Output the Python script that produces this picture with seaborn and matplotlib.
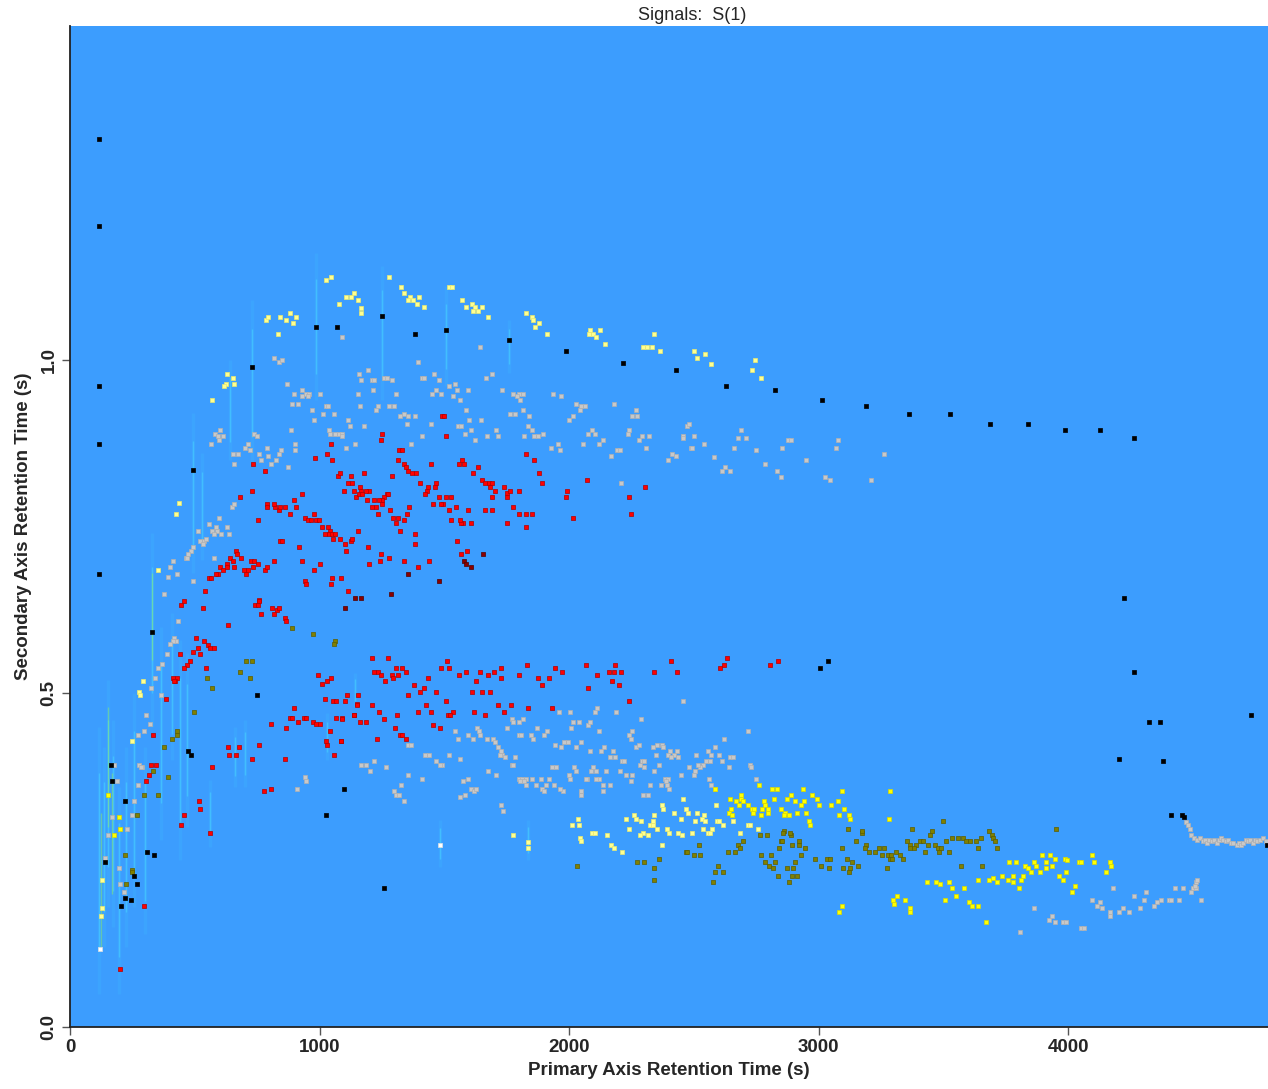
"""
GCxGC peak map: primary vs secondary retention time, peaks coloured by class
"""

import numpy as np
import pandas as pd
import matplotlib
matplotlib.use("Agg")
import matplotlib.pyplot as plt
import seaborn as sns

sns.set_style("white", {"xtick.bottom": True, "ytick.left": True})
plt.rcParams["font.family"] = ["Liberation Sans", "DejaVu Sans"]

# ---- peak tables: (primary RT s, secondary RT s) ----
black_pts = [
    (116, 1.330), (116, 1.200), (116, 0.960), (116, 0.874), (116, 0.679),
    (329, 0.592), (164, 0.392), (168, 0.368), (221, 0.338), (309, 0.262), (337, 0.257),
    (257, 0.227), (269, 0.214), (221, 0.193), (245, 0.191), (205, 0.182), (140, 0.248),
    (473, 0.413), (485, 0.408), (750, 0.498), (1099, 0.357), (1027, 0.318), (1259, 0.208),
    (493, 0.834), (730, 0.989), (987, 1.049), (1071, 1.049), (1251, 1.066), (1384, 1.039),
    (1508, 1.044), (1757, 1.030), (1989, 1.013), (2214, 0.995), (2427, 0.985),
    (2627, 0.960), (2824, 0.954), (3012, 0.939), (3189, 0.930), (3361, 0.919), (3526, 0.919),
    (3686, 0.903), (3838, 0.903), (3987, 0.894), (4127, 0.894), (4264, 0.883),
    (4224, 0.643), (4264, 0.532), (4324, 0.457), (4368, 0.457), (4733, 0.468), (4204, 0.402),
    (4380, 0.398), (3036, 0.549), (3004, 0.538), (4412, 0.318), (4456, 0.318), (4464, 0.314),
    (4797, 0.272),
]

white_pts = [(120, 0.117), (1484, 0.272)]

pale_yellow_pts = [
    (786, 1.060), (794, 1.064), (842, 1.064), (866, 1.060), (882, 1.070), (906, 1.064),
    (894, 1.055), (834, 1.039), (1027, 1.120), (1047, 1.124), (1079, 1.084), (1107, 1.094),
    (1127, 1.094), (1139, 1.100), (1155, 1.090), (1167, 1.078), (1167, 1.070), (1280, 1.124),
    (1328, 1.109), (1340, 1.100), (1364, 1.094), (1356, 1.090), (1376, 1.090), (1400, 1.094),
    (1392, 1.084), (1420, 1.079), (1520, 1.109), (1532, 1.109), (1572, 1.090), (1588, 1.079),
    (1612, 1.084), (1624, 1.079), (1616, 1.073), (1636, 1.073), (1652, 1.079), (1676, 1.064),
    (1829, 1.070), (1853, 1.064), (1857, 1.060), (1881, 1.055), (1865, 1.049), (1913, 1.039),
    (2082, 1.044), (2078, 1.039), (2094, 1.039), (2106, 1.034), (2122, 1.044), (2142, 1.024),
    (2294, 1.019), (2310, 1.019), (2330, 1.019), (2338, 1.039), (2362, 1.013), (2499, 1.013),
    (2511, 1.003), (2543, 1.009), (2567, 0.994), (2744, 1.000), (2732, 0.984), (2768, 0.973),
    (630, 0.979), (654, 0.973), (626, 0.964), (658, 0.964), (618, 0.960), (570, 0.939),
    (437, 0.785), (425, 0.768), (353, 0.685), (293, 0.519), (277, 0.502), (281, 0.498),
    (249, 0.428), (128, 0.221), (128, 0.178), (124, 0.167),
    (2455, 0.342), (2371, 0.332), (2375, 0.327), (2467, 0.327), (2475, 0.321), (2511, 0.321),
    (2539, 0.318), (2531, 0.312), (2543, 0.308), (2591, 0.308), (2599, 0.308), (2615, 0.302),
    (2655, 0.308), (2535, 0.297), (2571, 0.297), (2555, 0.291), (2563, 0.291), (2683, 0.291),
    (2716, 0.302), (2724, 0.302), (2756, 0.297), (2503, 0.308), (2491, 0.291), (2447, 0.312),
    (2419, 0.321), (2451, 0.287), (2435, 0.291), (2391, 0.297), (2399, 0.291), (2351, 0.297),
    (2323, 0.302), (2335, 0.302), (2335, 0.308), (2339, 0.318), (2286, 0.308), (2266, 0.312),
    (2258, 0.318), (2226, 0.312), (2238, 0.297), (2294, 0.291), (2282, 0.287), (2314, 0.287),
    (2371, 0.272), (2150, 0.287), (2166, 0.272), (2178, 0.268), (2210, 0.262), (2037, 0.312),
    (2013, 0.302), (2041, 0.302), (2090, 0.291), (2102, 0.291), (2045, 0.283), (2049, 0.278),
    (1773, 0.287), (1837, 0.277), (1837, 0.268), (2587, 0.332),
]

yellow_pts = [
    (152, 0.348), (197, 0.314), (201, 0.297), (176, 0.287),
    (2583, 0.357), (2760, 0.362), (2812, 0.357), (2832, 0.357), (2936, 0.357), (3093, 0.354),
    (3285, 0.354), (2643, 0.342), (2687, 0.348), (2687, 0.342), (2667, 0.338), (2695, 0.338),
    (2679, 0.332), (2716, 0.332), (2732, 0.327), (2740, 0.327), (2647, 0.327), (2639, 0.321),
    (2651, 0.318), (2736, 0.321), (2772, 0.327), (2780, 0.338), (2784, 0.332), (2796, 0.327),
    (2796, 0.321), (2768, 0.318), (2820, 0.342), (2848, 0.327), (2872, 0.342), (2888, 0.348),
    (2904, 0.338), (2864, 0.321), (2860, 0.318), (2880, 0.318), (2912, 0.321), (2928, 0.332),
    (2940, 0.338), (2948, 0.321), (2972, 0.348), (2992, 0.342), (3000, 0.332), (3048, 0.332),
    (3076, 0.338), (3101, 0.327), (3081, 0.318), (3121, 0.318), (3125, 0.312), (2960, 0.308),
    (2964, 0.302), (3281, 0.312),
    (3433, 0.218), (3470, 0.218), (3486, 0.214), (3522, 0.218), (3534, 0.208), (3582, 0.208),
    (3550, 0.197), (3506, 0.191), (3602, 0.187), (3614, 0.182), (3638, 0.182), (3670, 0.157),
    (3638, 0.221), (3682, 0.221), (3698, 0.224), (3714, 0.218), (3734, 0.227), (3758, 0.221),
    (3778, 0.227), (3778, 0.218), (3802, 0.208), (3810, 0.221), (3818, 0.227), (3826, 0.242),
    (3838, 0.238), (3850, 0.232), (3862, 0.248), (3870, 0.242), (3886, 0.232), (3894, 0.257),
    (3910, 0.248), (3910, 0.238), (3926, 0.257), (3934, 0.242), (3946, 0.251), (3962, 0.227),
    (3978, 0.221), (3990, 0.232), (3986, 0.251), (3994, 0.250), (4027, 0.212), (4015, 0.202),
    (4043, 0.248), (4051, 0.248), (4095, 0.257), (4103, 0.248), (4151, 0.232), (4167, 0.248),
    (4171, 0.242), (3762, 0.248), (3790, 0.248), (3297, 0.191), (3313, 0.196), (3301, 0.185),
    (3345, 0.191), (3365, 0.178), (3365, 0.173), (3093, 0.182), (3081, 0.172),
]

gray_pts = [
    # upper band
    (1091, 1.034), (818, 1.003), (838, 0.996), (850, 1.000), (870, 0.964), (1195, 0.985),
    (1159, 0.979), (1167, 0.969), (1211, 0.969), (1219, 0.969), (1259, 0.973), (1271, 0.973),
    (1291, 0.969), (1396, 0.996), (1412, 0.973), (1420, 0.973), (1460, 0.979), (1480, 0.969),
    (1644, 1.019), (1668, 0.973), (1692, 0.979), (1544, 0.964), (1520, 0.960), (1468, 0.955),
    (1452, 0.949), (1488, 0.949), (1552, 0.955), (1596, 0.955), (1564, 0.939), (1536, 0.945),
    (1588, 0.925), (1600, 0.909), (1648, 0.909), (1556, 0.900), (1568, 0.900), (1584, 0.889),
    (1608, 0.895), (1624, 0.879), (1672, 0.885), (1705, 0.895), (1713, 0.885), (1729, 0.955),
    (1773, 0.949), (1797, 0.949), (1817, 0.949), (1789, 0.945), (1805, 0.939), (1817, 0.925),
    (1841, 0.915), (1761, 0.919), (1781, 0.919), (1837, 0.900), (1853, 0.895), (1861, 0.885),
    (1877, 0.885), (1821, 0.885), (1897, 0.889), (1937, 0.949), (1969, 0.945), (2029, 0.933),
    (2049, 0.930), (2065, 0.930), (2045, 0.925), (2017, 0.915), (2001, 0.909), (1929, 0.868),
    (1957, 0.873), (1965, 0.864), (2057, 0.873), (2090, 0.895), (2074, 0.889), (2102, 0.889),
    (2118, 0.873), (2134, 0.879), (2178, 0.933), (2266, 0.925), (2250, 0.915), (2270, 0.915),
    (2238, 0.895), (2234, 0.889), (2278, 0.879), (2290, 0.885), (2318, 0.885), (2306, 0.868),
    (2190, 0.864), (2202, 0.864), (2166, 0.855), (2206, 0.815), (2395, 0.849), (2411, 0.859),
    (2427, 0.855), (2455, 0.885), (2471, 0.900), (2479, 0.904), (2487, 0.868), (2499, 0.885),
    (2455, 0.883), (2491, 0.868), (2539, 0.873), (2579, 0.854), (2623, 0.839), (2611, 0.833),
    (2643, 0.833), (2687, 0.894), (2675, 0.883), (2707, 0.883), (2659, 0.868), (2748, 0.864),
    (2784, 0.843), (2832, 0.833), (2848, 0.824), (2852, 0.868), (2876, 0.879), (2888, 0.879),
    (2948, 0.849), (3024, 0.824), (3044, 0.819), (3068, 0.868), (3076, 0.879), (3209, 0.819),
    (3261, 0.859),
    (931, 0.955), (898, 0.949), (947, 0.949), (959, 0.949), (931, 0.945), (955, 0.945),
    (1003, 0.949), (890, 0.933), (914, 0.933), (971, 0.925), (1015, 0.919), (1027, 0.930),
    (1035, 0.930), (1059, 0.919), (979, 0.909), (1039, 0.895), (1043, 0.889), (1063, 0.889),
    (1079, 0.889), (1091, 0.889), (1091, 0.885), (1115, 0.909), (1123, 0.900), (1155, 0.949),
    (1163, 0.930), (1179, 0.900), (1215, 0.955), (1235, 0.930), (1227, 0.925), (1280, 0.930),
    (1300, 0.930), (1308, 0.949), (1340, 0.919), (1356, 0.915), (1324, 0.915), (1384, 0.915),
    (1352, 0.904), (1448, 0.904), (1412, 0.885), (1368, 0.873), (1107, 0.868), (1143, 0.873),
    (902, 0.873), (902, 0.864), (886, 0.895),
    # left ramp
    (602, 0.895), (582, 0.889), (594, 0.885), (614, 0.885), (566, 0.873), (598, 0.879),
    (738, 0.889), (750, 0.885), (702, 0.868), (714, 0.873), (722, 0.864), (654, 0.859),
    (674, 0.859), (658, 0.843), (758, 0.859), (790, 0.868), (766, 0.849), (794, 0.855),
    (806, 0.843), (826, 0.849), (838, 0.859), (846, 0.864), (874, 0.839), (650, 0.779),
    (658, 0.783), (598, 0.762), (558, 0.753), (586, 0.749), (590, 0.744), (570, 0.744),
    (578, 0.739), (606, 0.739), (630, 0.749), (638, 0.739), (538, 0.728), (546, 0.732),
    (578, 0.703), (522, 0.729), (534, 0.724), (514, 0.743), (493, 0.719), (485, 0.713),
    (473, 0.709), (465, 0.703), (469, 0.703), (413, 0.698), (401, 0.689), (429, 0.679),
    (393, 0.674), (493, 0.668), (377, 0.649), (433, 0.608), (417, 0.583), (425, 0.578),
    (413, 0.578), (401, 0.574), (389, 0.559), (369, 0.544), (353, 0.538), (341, 0.523),
    (325, 0.508), (365, 0.498), (305, 0.468), (321, 0.454), (297, 0.444), (273, 0.438),
    (277, 0.392), (289, 0.389), (285, 0.389), (176, 0.392), (189, 0.368), (273, 0.363),
    (257, 0.338), (168, 0.314), (249, 0.318), (229, 0.297), (152, 0.287), (197, 0.238),
    (201, 0.214), (217, 0.202), (140, 0.253), (943, 0.374), (947, 0.368), (911, 0.357),
    # lower band
    (2455, 0.489), (1961, 0.472), (2005, 0.472), (2110, 0.478), (2102, 0.472), (2186, 0.472),
    (2286, 0.462), (1817, 0.462), (1769, 0.462), (1773, 0.457), (1797, 0.457), (1749, 0.448),
    (1632, 0.448), (1640, 0.444), (1644, 0.438), (1544, 0.444), (1596, 0.438), (1556, 0.432),
    (1616, 0.432), (1669, 0.432), (1693, 0.432), (1701, 0.427), (1713, 0.419), (1725, 0.414),
    (1729, 0.408), (1721, 0.408), (1741, 0.404), (1781, 0.404), (1769, 0.393), (1773, 0.393),
    (1801, 0.438), (1809, 0.438), (1849, 0.438), (1857, 0.432), (1873, 0.448), (1901, 0.438),
    (1913, 0.444), (1945, 0.422), (1969, 0.419), (1981, 0.427), (1997, 0.427), (2009, 0.448),
    (2017, 0.457), (2041, 0.457), (2029, 0.419), (2049, 0.427), (2074, 0.453), (2082, 0.457),
    (2118, 0.444), (2082, 0.414), (2126, 0.414), (2138, 0.419), (2174, 0.414), (2162, 0.404),
    (2182, 0.404), (2210, 0.398), (2218, 0.398), (2238, 0.438), (2246, 0.432), (2250, 0.444),
    (2266, 0.419), (2278, 0.422), (2334, 0.419), (2350, 0.422), (2370, 0.422), (2375, 0.419),
    (2346, 0.408), (2403, 0.414), (2419, 0.408), (2395, 0.408), (2431, 0.414), (2290, 0.398),
    (2298, 0.398), (2282, 0.393), (2298, 0.389), (2407, 0.404), (2435, 0.404), (2507, 0.408),
    (2555, 0.414), (2567, 0.408), (2583, 0.419), (2599, 0.408), (2619, 0.432), (2716, 0.444),
    (2643, 0.404), (2655, 0.404), (2611, 0.398), (2639, 0.389), (2547, 0.398), (2563, 0.398),
    (2535, 0.393), (2523, 0.389), (2515, 0.393), (2479, 0.389), (2503, 0.384), (2499, 0.378),
    (2447, 0.378), (2724, 0.393), (2728, 0.389), (2748, 0.372), (2559, 0.372), (2567, 0.362),
    (2583, 0.357), (2339, 0.384), (2358, 0.393), (2383, 0.372), (2395, 0.372), (2387, 0.368),
    (2391, 0.362), (2399, 0.357), (2366, 0.362), (2323, 0.362), (2294, 0.348), (2314, 0.348),
    (2250, 0.378), (2246, 0.368), (2226, 0.378), (2202, 0.384), (2162, 0.362), (2134, 0.362),
    (2134, 0.353), (2146, 0.384), (2118, 0.372), (2106, 0.372), (2094, 0.389), (2106, 0.384),
    (2070, 0.372), (2066, 0.372), (2086, 0.384), (2049, 0.353), (2049, 0.348), (2021, 0.389),
    (2029, 0.384), (2001, 0.378), (2005, 0.372), (1977, 0.353), (1965, 0.357), (1941, 0.362),
    (1909, 0.362), (1933, 0.389), (1949, 0.389), (1889, 0.372), (1921, 0.372), (1869, 0.362),
    (1893, 0.357), (1901, 0.353), (1853, 0.372), (1829, 0.372), (1801, 0.372), (1813, 0.372),
    (1805, 0.368), (1829, 0.362), (1821, 0.368), (1705, 0.378), (1673, 0.384), (1596, 0.372),
    (1576, 0.368), (1608, 0.357), (1620, 0.353), (1628, 0.357), (1584, 0.348), (1564, 0.344),
    (1725, 0.332), (1733, 0.323), (1564, 0.402), (1520, 0.408), (1468, 0.398), (1492, 0.393),
    (1484, 0.393), (1424, 0.408), (1440, 0.408), (1355, 0.422), (1368, 0.422), (1412, 0.372),
    (1355, 0.378), (1328, 0.362), (1300, 0.353), (1308, 0.348), (1320, 0.348), (1340, 0.338),
    (1268, 0.389), (1219, 0.398), (1203, 0.384), (1167, 0.393), (1187, 0.393),
    # lower-right trail
    (4180, 0.208), (4264, 0.197), (4312, 0.202), (4304, 0.191), (4344, 0.182), (4356, 0.187),
    (4372, 0.191), (4404, 0.191), (4412, 0.191), (4444, 0.191), (4428, 0.208), (4460, 0.208),
    (4500, 0.208), (4512, 0.208), (4492, 0.202), (4508, 0.212), (4512, 0.218), (4516, 0.221),
    (4532, 0.191), (4095, 0.191), (4115, 0.182), (4127, 0.187), (4135, 0.178), (4167, 0.172),
    (4167, 0.167), (4204, 0.172), (4244, 0.172), (4288, 0.178), (4220, 0.178), (3862, 0.178),
    (3922, 0.161), (3934, 0.167), (3946, 0.157), (3978, 0.157), (3990, 0.157), (4051, 0.148),
    (4063, 0.148), (3806, 0.142),
    (4472, 0.307), (4480, 0.302), (4488, 0.296), (4492, 0.287), (4504, 0.283), (4516, 0.280),
    (4528, 0.283), (4540, 0.278), (4548, 0.280), (4556, 0.276), (4564, 0.280), (4576, 0.278),
    (4584, 0.280), (4596, 0.276), (4604, 0.280), (4612, 0.283), (4620, 0.280), (4632, 0.278),
    (4640, 0.280), (4652, 0.276), (4660, 0.276), (4676, 0.272), (4684, 0.276), (4692, 0.272),
    (4700, 0.276), (4712, 0.280), (4720, 0.278), (4728, 0.280), (4740, 0.276), (4748, 0.280),
    (4756, 0.278), (4768, 0.280), (4780, 0.283), (4790, 0.278),
]

red_pts = [
    # upper cloud
    (1492, 0.915), (1500, 0.915), (1251, 0.889), (1247, 0.879), (1508, 0.885), (1047, 0.873),
    (1031, 0.859), (983, 0.853), (1051, 0.849), (1320, 0.864), (1332, 0.864), (1316, 0.849),
    (1340, 0.843), (1348, 0.839), (1356, 0.833), (1372, 0.830), (1388, 0.830), (1448, 0.843),
    (1560, 0.843), (1572, 0.849), (1580, 0.843), (1636, 0.839), (1616, 0.830), (1829, 0.859),
    (1861, 0.849), (1881, 0.830), (1893, 0.815), (2070, 0.819), (1993, 0.803), (1989, 0.794),
    (2017, 0.762), (2302, 0.809), (2238, 0.794), (2246, 0.768), (1652, 0.819), (1664, 0.815),
    (1680, 0.815), (1692, 0.815), (1684, 0.809), (1701, 0.803), (1689, 0.794), (1737, 0.809),
    (1749, 0.800), (1749, 0.794), (1761, 0.803), (1797, 0.803), (1773, 0.779), (1801, 0.768),
    (1829, 0.768), (1853, 0.768), (1829, 0.749), (1749, 0.755), (1664, 0.774), (1689, 0.774),
    (1596, 0.774), (1548, 0.779), (1520, 0.774), (1528, 0.759), (1508, 0.794), (1528, 0.794),
    (1480, 0.794), (1496, 0.783), (1488, 0.783), (1456, 0.783), (1468, 0.815), (1464, 0.809),
    (1436, 0.809), (1432, 0.803), (1424, 0.798), (1404, 0.815), (1360, 0.779), (1352, 0.768),
    (1296, 0.762), (1316, 0.762), (1340, 0.759), (1284, 0.774), (1308, 0.755), (1324, 0.744),
    (1235, 0.768), (1211, 0.779), (1227, 0.779), (1271, 0.798), (1275, 0.798), (1259, 0.794),
    (1251, 0.789), (1239, 0.789), (1251, 0.783), (1219, 0.789), (1191, 0.789), (1199, 0.803),
    (1187, 0.803), (1163, 0.809), (1167, 0.803), (1147, 0.794), (1159, 0.798), (1171, 0.798),
    (1139, 0.803), (1115, 0.815), (1131, 0.815), (1127, 0.825), (1099, 0.803), (1075, 0.825),
    (1083, 0.830), (1179, 0.830), (1291, 0.825), (931, 0.798), (898, 0.789), (979, 0.768),
    (943, 0.762), (955, 0.759), (967, 0.759), (987, 0.759), (999, 0.759), (1011, 0.749),
    (1035, 0.749), (1043, 0.744), (1039, 0.739), (1051, 0.739), (1023, 0.739), (1055, 0.732),
    (1063, 0.739), (1083, 0.732), (1103, 0.724), (1107, 0.714), (1127, 0.729), (1131, 0.732),
    (1155, 0.744), (1195, 0.719), (1247, 0.709), (1280, 0.703), (1243, 0.698), (1199, 0.694),
    (1115, 0.653), (1051, 0.673), (1087, 0.673), (1047, 0.664), (1003, 0.694), (979, 0.685),
    (931, 0.698), (919, 0.719), (943, 0.668), (947, 0.664), (842, 0.729), (850, 0.729),
    (882, 0.768), (906, 0.779), (862, 0.779), (838, 0.774), (842, 0.779), (822, 0.779),
    (818, 0.783), (790, 0.783), (790, 0.779), (754, 0.759), (730, 0.803), (682, 0.794),
    (734, 0.843), (782, 0.833), (666, 0.714), (670, 0.709), (642, 0.703), (654, 0.698),
    (686, 0.703), (630, 0.694), (630, 0.689), (602, 0.689), (614, 0.685), (594, 0.679),
    (586, 0.679), (558, 0.673), (566, 0.673), (542, 0.653), (658, 0.689), (698, 0.685),
    (706, 0.679), (714, 0.685), (726, 0.698), (738, 0.698), (754, 0.694), (734, 0.689),
    (782, 0.685), (790, 0.689), (818, 0.698), (758, 0.640), (1340, 0.698), (1384, 0.739),
    (1384, 0.724), (1396, 0.689), (1440, 0.698), (1552, 0.729), (1568, 0.709), (1592, 0.714),
    (1608, 0.755), (1576, 0.755), (1568, 0.755), (1564, 0.759),
    (457, 0.638), (445, 0.633), (533, 0.628), (634, 0.602), (742, 0.633), (754, 0.633),
    (758, 0.638), (766, 0.619), (811, 0.628), (819, 0.619), (830, 0.625), (838, 0.628),
    (862, 0.613), (866, 0.608), (505, 0.583), (537, 0.578), (553, 0.573), (561, 0.568),
    (578, 0.568), (513, 0.568), (493, 0.562), (521, 0.559), (441, 0.559), (481, 0.549),
    (469, 0.543), (457, 0.538), (546, 0.538), (413, 0.523), (429, 0.523), (421, 0.519),
    (417, 0.519), (385, 0.492), (333, 0.438), (325, 0.392), (345, 0.392), (317, 0.378),
    (305, 0.368), (517, 0.338), (521, 0.327), (457, 0.318), (445, 0.302), (561, 0.291),
    (297, 0.182), (201, 0.087),
    # lower band
    (634, 0.419), (678, 0.419), (638, 0.408), (666, 0.408), (570, 0.389), (758, 0.423),
    (730, 0.402), (778, 0.353), (806, 0.357), (862, 0.402), (898, 0.478), (806, 0.454),
    (866, 0.448), (882, 0.463), (890, 0.463), (914, 0.457), (939, 0.463), (947, 0.463),
    (975, 0.457), (987, 0.454), (1003, 0.454), (1043, 0.443), (1027, 0.428), (1031, 0.423),
    (1059, 0.408), (1087, 0.428), (1067, 0.463), (1091, 0.463), (1139, 0.468), (1151, 0.484),
    (1111, 0.498), (1155, 0.498), (995, 0.528), (1011, 0.514), (1031, 0.519), (1047, 0.523),
    (1023, 0.492), (1055, 0.489), (1067, 0.489), (1103, 0.489),
    (1211, 0.553), (1275, 0.553), (1512, 0.549), (1833, 0.543), (2066, 0.543), (2182, 0.543),
    (2407, 0.549), (2631, 0.553), (2619, 0.543), (2603, 0.538), (2804, 0.543), (2836, 0.549),
    (1219, 0.532), (1235, 0.532), (1247, 0.528), (1291, 0.528), (1316, 0.528), (1296, 0.523),
    (1308, 0.538), (1332, 0.538), (1348, 0.532), (1263, 0.519), (1488, 0.538), (1520, 0.538),
    (1436, 0.523), (1380, 0.513), (1420, 0.508), (1404, 0.502), (1468, 0.502), (1356, 0.498),
    (1560, 0.528), (1588, 0.532), (1644, 0.532), (1673, 0.528), (1697, 0.532), (1725, 0.538),
    (1725, 0.523), (1628, 0.519), (1612, 0.502), (1652, 0.502), (1681, 0.502), (1801, 0.528),
    (1877, 0.523), (1893, 0.513), (1921, 0.523), (1945, 0.538), (1973, 0.532), (2110, 0.528),
    (2074, 0.508), (2158, 0.532), (2178, 0.532), (2206, 0.532), (2170, 0.519), (2198, 0.513),
    (2339, 0.532), (2431, 0.532), (2238, 0.489), (1837, 0.478), (1933, 0.478), (1713, 0.483),
    (1765, 0.483), (1737, 0.472), (1620, 0.472), (1661, 0.468), (1536, 0.472), (1516, 0.468),
    (1524, 0.468), (1508, 0.489), (1428, 0.483), (1448, 0.472), (1396, 0.472), (1456, 0.453),
    (1484, 0.448), (1312, 0.468), (1239, 0.472), (1259, 0.462), (1211, 0.483), (1151, 0.483),
    (1139, 0.468), (1163, 0.457), (1187, 0.457), (1091, 0.462), (1304, 0.448), (1324, 0.438),
    (1332, 0.438), (1348, 0.432), (1231, 0.432), (1087, 0.428),
]

dark_red_pts = [
    (1656, 0.709), (1580, 0.698), (1588, 0.694), (1608, 0.689), (1356, 0.679), (1480, 0.668),
    (1288, 0.649), (1143, 0.643), (1167, 0.643), (1103, 0.628),
]

olive_pts = [
    (890, 0.598), (975, 0.589), (1063, 0.578), (1059, 0.574), (706, 0.549), (730, 0.549),
    (682, 0.532), (722, 0.523), (549, 0.523), (570, 0.508), (497, 0.472), (429, 0.443),
    (429, 0.438), (409, 0.432), (377, 0.419), (333, 0.383), (393, 0.374), (297, 0.348),
    (353, 0.348), (269, 0.318), (221, 0.257), (249, 0.236), (249, 0.233), (225, 0.214),
    (2030, 0.242), (2270, 0.248), (2298, 0.248), (2359, 0.251), (2338, 0.238), (2338, 0.221),
    (2467, 0.262), (2471, 0.262), (2499, 0.257), (2523, 0.257), (2519, 0.272), (2583, 0.232),
    (2615, 0.232), (2575, 0.218), (2595, 0.242), (2635, 0.262), (2663, 0.262), (2675, 0.272),
    (2683, 0.268), (2695, 0.278), (2764, 0.287), (2792, 0.287), (2768, 0.257), (2808, 0.257),
    (2784, 0.248), (2824, 0.248), (2800, 0.242), (2816, 0.238), (2836, 0.227), (2872, 0.238),
    (2896, 0.238), (2880, 0.218), (2892, 0.227), (2912, 0.227), (2860, 0.293), (2888, 0.287),
    (2856, 0.291), (2884, 0.291), (2848, 0.278), (2852, 0.278), (2840, 0.268), (2892, 0.272),
    (2920, 0.272), (2920, 0.278), (2944, 0.268), (2928, 0.257), (2904, 0.248), (2984, 0.251),
    (3008, 0.242), (3032, 0.251), (3044, 0.251), (3040, 0.238), (3093, 0.268), (3113, 0.251),
    (3133, 0.248), (3097, 0.238), (3125, 0.238), (3121, 0.232), (3117, 0.297), (3173, 0.291),
    (3149, 0.278), (3157, 0.242), (3173, 0.293), (3189, 0.272), (3185, 0.268), (3201, 0.262),
    (3225, 0.262), (3241, 0.268), (3261, 0.268), (3253, 0.257), (3277, 0.257), (3289, 0.257),
    (3285, 0.251), (3293, 0.251), (3309, 0.262), (3325, 0.257), (3337, 0.251), (3273, 0.238),
    (3353, 0.278), (3365, 0.272), (3389, 0.272), (3373, 0.297), (3365, 0.268), (3381, 0.268),
    (3405, 0.278), (3417, 0.278), (3425, 0.262), (3437, 0.272), (3445, 0.287), (3453, 0.293),
    (3466, 0.272), (3478, 0.268), (3490, 0.268), (3498, 0.308), (3510, 0.278), (3482, 0.262),
    (3522, 0.262), (3534, 0.283), (3558, 0.283), (3578, 0.283), (3590, 0.278), (3606, 0.278),
    (3630, 0.278), (3638, 0.268), (3650, 0.283), (3682, 0.293), (3694, 0.287), (3698, 0.283),
    (3706, 0.278), (3714, 0.268), (3570, 0.242), (3654, 0.242), (3951, 0.297),
]

# faint vertical peak tails: (primary RT, secondary low, secondary high)
streaks = [
    (118, 0.05, 0.45), (136, 0.12, 0.42), (152, 0.18, 0.52), (172, 0.15, 0.46),
    (198, 0.05, 0.36), (226, 0.12, 0.42), (258, 0.18, 0.50), (300, 0.14, 0.42),
    (329, 0.45, 0.74), (365, 0.28, 0.60), (410, 0.40, 0.62), (440, 0.25, 0.58),
    (470, 0.30, 0.56), (493, 0.68, 0.92), (528, 0.70, 0.86), (562, 0.27, 0.37),
    (640, 0.85, 1.00), (730, 0.84, 1.09), (987, 0.94, 1.16), (1251, 0.94, 1.14),
    (1508, 0.96, 1.11), (1757, 0.98, 1.06), (1484, 0.24, 0.31), (1837, 0.25, 0.31),
    (662, 0.36, 0.45), (700, 0.36, 0.46), (1031, 0.40, 0.47), (1140, 0.48, 0.53),
]
green_streaks = [(124, 0.12, 0.32), (152, 0.30, 0.48), (168, 0.20, 0.38), (329, 0.55, 0.68)]

groups = [
    ("gray", gray_pts, "#c8c8c8", "#b0b0b0"),
    ("olive", olive_pts, "#808000", "#5c5c00"),
    ("pale", pale_yellow_pts, "#ffff90", "#e8e870"),
    ("yellow", yellow_pts, "#ffff00", "#d8d800"),
    ("red", red_pts, "#ff0000", "#b00000"),
    ("darkred", dark_red_pts, "#8a0000", "#500000"),
    ("white", white_pts, "#ffffff", "#e0e0e0"),
    ("black", black_pts, "#000000", "#000000"),
]

frames = []
for name, pts, face, edge in groups:
    df = pd.DataFrame(pts, columns=["t1", "t2"])
    df["group"] = name
    frames.append(df)
peaks = pd.concat(frames, ignore_index=True)

fig = plt.figure(figsize=(12.68, 10.89), dpi=100)
ax = fig.add_axes([70 / 1268, 62 / 1089, 1198 / 1268, 1001 / 1089])
ax.set_facecolor("#3c9dfe")

for x, lo, hi in streaks:
    ax.vlines(x, lo, hi, color="#40d8ff", lw=2.5, alpha=0.12, zorder=1)
    mid = (lo + hi) / 2
    ax.vlines(x, lo + (mid - lo) * 0.35, hi - (hi - mid) * 0.35, color="#50f0ff",
              lw=1.0, alpha=0.35, zorder=1)
for x, lo, hi in green_streaks:
    ax.vlines(x, lo, hi, color="#a0ff40", lw=1.0, alpha=0.4, zorder=1)

for name, pts, face, edge in groups:
    sub = peaks[peaks["group"] == name]
    sns.scatterplot(data=sub, x="t1", y="t2", ax=ax, marker="s", s=9,
                    color=face, edgecolor=edge, linewidth=0.5, legend=False, zorder=3)

ax.set_xlim(0, 4800)
ax.set_ylim(0, 1.5)
ax.set_xticks([0, 1000, 2000, 3000, 4000])
ax.set_yticks([0.0, 0.5, 1.0])
ax.set_yticklabels(["0.0", "0.5", "1.0"], rotation=90, va="center")
ax.tick_params(axis="both", direction="out", length=6, width=1, color="#555555",
               labelsize=13.5, pad=3, bottom=True, left=True)
for lab in ax.get_xticklabels() + ax.get_yticklabels():
    lab.set_fontweight("bold")

for side in ["top", "right"]:
    ax.spines[side].set_visible(False)
for side in ["left", "bottom"]:
    ax.spines[side].set_color("#222222")
    ax.spines[side].set_linewidth(1.3)

ax.set_xlabel("Primary Axis Retention Time (s)", fontsize=13.5, fontweight="bold", labelpad=4)
ax.set_ylabel("Secondary Axis Retention Time (s)", fontsize=13.5, fontweight="bold", labelpad=6)
fig.text(692 / 1268, 1 - 15 / 1089, "Signals:  S(1)", fontsize=13, ha="center", va="center")

fig.savefig("out.png", dpi=100)
